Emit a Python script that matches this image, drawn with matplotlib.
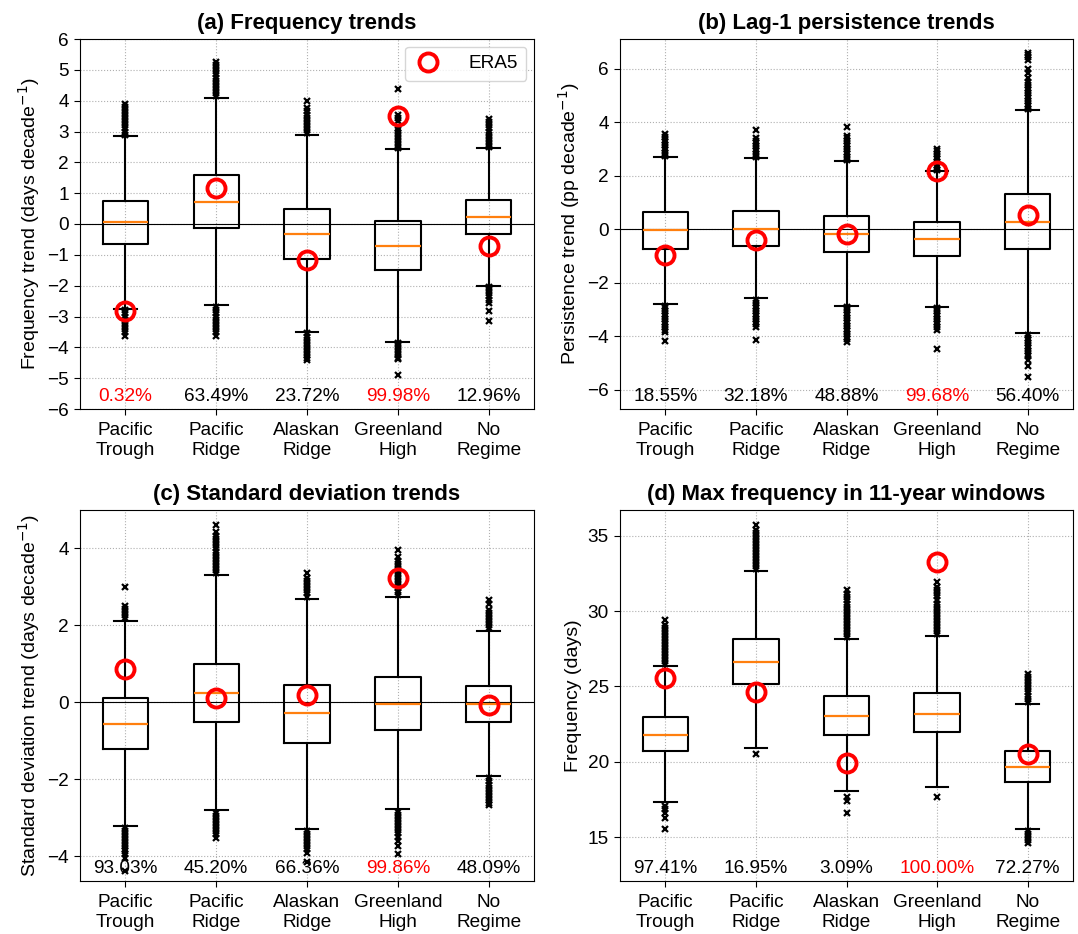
import matplotlib
matplotlib.use("Agg")
import matplotlib.pyplot as plt
import matplotlib.transforms as mtransforms

plt.rcParams['font.family'] = ['Liberation Sans', 'DejaVu Sans']
plt.rcParams['font.size'] = 13.7

regimes = ["Pacific\nTrough", "Pacific\nRidge", "Alaskan\nRidge", "Greenland\nHigh", "No\nRegime"]

# ---------------- Panel (a): Frequency trends ----------------
a_med = [0.05, 0.72, -0.33, -0.72, 0.24]
a_q1 = [-0.65, -0.12, -1.12, -1.48, -0.33]
a_q3 = [0.76, 1.58, 0.49, 0.09, 0.79]
a_whislo = [-2.75, -2.62, -3.51, -3.82, -2.00]
a_whishi = [2.86, 4.09, 2.89, 2.42, 2.45]
a_fliers = [
    [2.9, 3.0, 3.1, 3.2, 3.3, 3.4, 3.5, 3.6, 3.7, 3.8, 3.9,
     -2.8, -2.9, -3.0, -3.1, -3.2, -3.3, -3.4, -3.5, -3.63],
    [4.15, 4.25, 4.35, 4.45, 4.55, 4.65, 4.75, 4.85, 4.95, 5.05, 5.15, 5.26,
     -2.7, -2.8, -2.9, -3.0, -3.1, -3.2, -3.3, -3.4, -3.5, -3.62],
    [2.95, 3.05, 3.15, 3.25, 3.35, 3.45, 3.55, 3.65, 3.75, 4.0,
     -3.55, -3.65, -3.75, -3.85, -3.95, -4.05, -4.15, -4.25, -4.35, -4.42],
    [2.45, 2.55, 2.65, 2.75, 2.85, 2.95, 3.05, 3.12, 3.35, 3.45, 3.55, 4.37,
     -3.85, -3.95, -4.05, -4.15, -4.25, -4.33, -4.39, -4.89],
    [2.5, 2.6, 2.7, 2.8, 2.9, 3.0, 3.1, 3.2, 3.3, 3.42,
     -2.05, -2.15, -2.25, -2.35, -2.45, -2.56, -2.83, -3.13],
]
a_era5 = [-2.83, 1.17, -1.18, 3.49, -0.70]
a_pct = ["0.32%", "63.49%", "23.72%", "99.98%", "12.96%"]
a_sig = [True, False, False, True, False]

# ---------------- Panel (b): Lag-1 persistence trends ----------------
b_med = [-0.04, 0.02, -0.17, -0.37, 0.29]
b_q1 = [-0.74, -0.64, -0.85, -1.01, -0.75]
b_q3 = [0.64, 0.69, 0.51, 0.27, 1.33]
b_whislo = [-2.79, -2.58, -2.87, -2.89, -3.89]
b_whishi = [2.70, 2.67, 2.54, 2.17, 4.45]
b_fliers = [
    [2.75, 2.85, 2.95, 3.05, 3.15, 3.25, 3.35, 3.45, 3.58,
     -2.85, -2.95, -3.05, -3.15, -3.25, -3.35, -3.45, -3.55, -3.65, -3.75, -3.83, -4.17],
    [2.72, 2.82, 2.92, 3.02, 3.12, 3.22, 3.32, 3.42, 3.71,
     -2.65, -2.75, -2.85, -2.95, -3.05, -3.15, -3.25, -3.35, -3.45, -3.55, -3.64, -4.15],
    [2.6, 2.7, 2.8, 2.9, 3.0, 3.1, 3.2, 3.3, 3.4, 3.5, 3.81,
     -2.92, -3.02, -3.12, -3.22, -3.32, -3.42, -3.52, -3.62, -3.72, -3.82, -3.92, -4.02, -4.12, -4.2],
    [2.22, 2.32, 2.42, 2.52, 2.62, 2.72, 2.82, 2.92, 3.0,
     -2.95, -3.05, -3.15, -3.25, -3.35, -3.45, -3.55, -3.65, -3.76, -4.46],
    [4.5, 4.6, 4.7, 4.8, 4.9, 5.0, 5.1, 5.2, 5.3, 5.4, 5.5, 5.65, 5.85, 6.0,
     6.33, 6.43, 6.52, 6.6,
     -3.95, -4.05, -4.15, -4.25, -4.35, -4.45, -4.55, -4.65, -4.75, -4.88, -5.1, -5.51],
]
b_era5 = [-0.97, -0.41, -0.19, 2.18, 0.54]
b_pct = ["18.55%", "32.18%", "48.88%", "99.68%", "56.40%"]
b_sig = [False, False, False, True, False]

# ---------------- Panel (c): Standard deviation trends ----------------
c_med = [-0.56, 0.25, -0.29, -0.04, -0.04]
c_q1 = [-1.21, -0.52, -1.05, -0.72, -0.51]
c_q3 = [0.11, 1.00, 0.45, 0.66, 0.43]
c_whislo = [-3.21, -2.81, -3.29, -2.79, -1.92]
c_whishi = [2.12, 3.30, 2.69, 2.74, 1.86]
c_fliers = [
    [2.18, 2.26, 2.34, 2.42, 2.49, 3.0,
     -3.27, -3.35, -3.43, -3.51, -3.59, -3.67, -3.75, -3.82, -3.88, -3.96, -4.06, -4.38],
    [3.36, 3.44, 3.52, 3.6, 3.68, 3.76, 3.84, 3.92, 4.0, 4.08, 4.16, 4.24, 4.32, 4.42, 4.6,
     -2.87, -2.95, -3.03, -3.11, -3.19, -3.27, -3.35, -3.43, -3.52],
    [2.75, 2.83, 2.91, 2.99, 3.07, 3.15, 3.23, 3.35,
     -3.35, -3.43, -3.51, -3.59, -3.67, -3.75, -3.83, -3.93, -4.15],
    [2.8, 2.88, 2.96, 3.04, 3.12, 3.2, 3.28, 3.36, 3.44, 3.52, 3.6, 3.68, 3.78, 3.97,
     -2.85, -2.93, -3.01, -3.09, -3.17, -3.25, -3.33, -3.41, -3.5, -3.6, -3.75, -3.95],
    [1.92, 2.0, 2.08, 2.16, 2.24, 2.32, 2.4, 2.55, 2.67,
     -1.98, -2.06, -2.14, -2.22, -2.3, -2.38, -2.46, -2.54, -2.62, -2.68],
]
c_era5 = [0.87, 0.12, 0.18, 3.23, -0.07]
c_pct = ["93.03%", "45.20%", "66.36%", "99.86%", "48.09%"]
c_sig = [False, False, False, True, False]

# ---------------- Panel (d): Max frequency in 11-year windows ----------------
d_med = [21.81, 26.62, 23.07, 23.16, 19.63]
d_q1 = [20.74, 25.18, 21.81, 22.00, 18.64]
d_q3 = [22.98, 28.17, 24.36, 24.56, 20.70]
d_whislo = [17.37, 20.90, 18.10, 18.30, 15.58]
d_whishi = [26.35, 32.65, 28.17, 28.37, 23.82]
d_fliers = [
    [26.5, 26.7, 26.9, 27.1, 27.3, 27.5, 27.7, 27.9, 28.1, 28.3, 28.5, 28.7, 28.9, 29.1, 29.4,
     17.1, 16.9, 16.6, 16.26, 15.55],
    [32.8, 33.0, 33.2, 33.4, 33.6, 33.8, 34.0, 34.2, 34.4, 34.6, 34.8, 35.0, 35.2, 35.4, 35.7,
     20.54],
    [28.3, 28.5, 28.7, 28.9, 29.1, 29.3, 29.5, 29.7, 29.9, 30.1, 30.3, 30.5, 30.7, 30.9, 31.1, 31.4,
     17.7, 17.4, 16.64],
    [28.5, 28.7, 28.9, 29.1, 29.3, 29.5, 29.7, 29.9, 30.1, 30.3, 30.5, 30.7, 31.0, 31.2, 31.4, 31.6, 31.9,
     17.64],
    [24.0, 24.2, 24.4, 24.6, 24.8, 25.0, 25.2, 25.4, 25.6, 25.85,
     15.4, 15.2, 15.0, 14.8, 14.62],
]
d_era5 = [25.55, 24.62, 19.92, 33.27, 20.54]
d_pct = ["97.41%", "16.95%", "3.09%", "100.00%", "72.27%"]
d_sig = [False, False, False, True, False]

panels = [
    dict(title="(a) Frequency trends", ylabel="Frequency trend (days decade$^{-1}$)",
         med=a_med, q1=a_q1, q3=a_q3, lo=a_whislo, hi=a_whishi, fl=a_fliers, era=a_era5,
         pct=a_pct, sig=a_sig, ylim=(-6, 6), yticks=list(range(-6, 7, 1)), zero=True, legend=True),
    dict(title="(b) Lag-1 persistence trends", ylabel="Persistence trend (pp decade$^{-1}$)",
         med=b_med, q1=b_q1, q3=b_q3, lo=b_whislo, hi=b_whishi, fl=b_fliers, era=b_era5,
         pct=b_pct, sig=b_sig, ylim=(-6.72, 7.12), yticks=[-6, -4, -2, 0, 2, 4, 6], zero=True, legend=False),
    dict(title="(c) Standard deviation trends", ylabel="Standard deviation trend (days decade$^{-1}$)",
         med=c_med, q1=c_q1, q3=c_q3, lo=c_whislo, hi=c_whishi, fl=c_fliers, era=c_era5,
         pct=c_pct, sig=c_sig, ylim=(-4.65, 5.0), yticks=[-4, -2, 0, 2, 4], zero=True, legend=False),
    dict(title="(d) Max frequency in 11-year windows", ylabel="Frequency (days)",
         med=d_med, q1=d_q1, q3=d_q3, lo=d_whislo, hi=d_whishi, fl=d_fliers, era=d_era5,
         pct=d_pct, sig=d_sig, ylim=(12.1, 36.7), yticks=[15, 20, 25, 30, 35], zero=False, legend=False),
]

W, H = 1078, 934
fig = plt.figure(figsize=(W / 100, H / 100), dpi=100)
rects = [(80, 39, 534, 409), (620, 39, 1073, 409), (80, 510, 534, 881), (620, 510, 1073, 881)]

positions = [1, 2, 3, 4, 5]
for p, (x0, y0, x1, y1) in zip(panels, rects):
    ax = fig.add_axes([x0 / W, 1 - y1 / H, (x1 - x0) / W, (y1 - y0) / H])
    stats = []
    for i in range(5):
        stats.append(dict(med=p['med'][i], q1=p['q1'][i], q3=p['q3'][i],
                          whislo=p['lo'][i], whishi=p['hi'][i], fliers=p['fl'][i]))
    ax.bxp(stats, positions=positions, widths=0.5,
           boxprops=dict(color='black', linewidth=1.5),
           whiskerprops=dict(color='black', linewidth=1.5),
           capprops=dict(color='black', linewidth=1.5),
           medianprops=dict(color='#ff7f0e', linewidth=1.6),
           flierprops=dict(marker='x', markersize=4, markeredgewidth=1.6,
                           markeredgecolor='black', linestyle='none'))
    if p['zero']:
        ax.axhline(0, color='black', linewidth=0.8, zorder=1.5)
    ax.plot(positions, p['era'], linestyle='none', marker='o', markersize=13,
            markerfacecolor='none', markeredgecolor='red', markeredgewidth=2.8,
            label='ERA5', zorder=5)
    ax.set_xlim(0.5, 5.5)
    ax.set_ylim(*p['ylim'])
    ax.set_yticks(p['yticks'])
    ax.set_xticks(positions)
    ax.set_xticklabels(regimes)
    ax.grid(True, linestyle=':', color='#b0b0b0', linewidth=0.8)
    ax.set_axisbelow(True)
    ax.set_title(p['title'], fontsize=16, fontweight='bold', pad=7)
    ax.set_ylabel(p['ylabel'], fontsize=14)
    ax.tick_params(labelsize=13.7, length=4.5)
    ax.tick_params(axis='x', pad=5)
    trans = mtransforms.blended_transform_factory(ax.transData, ax.transAxes)
    for i in range(5):
        ax.text(positions[i], 0.012, p['pct'][i], transform=trans, ha='center', va='bottom',
                fontsize=13.7, color='red' if p['sig'][i] else 'black')
    if p['legend']:
        ax.legend(loc='upper right', fontsize=13.7, handlelength=1.6, handletextpad=1.3,
                  borderpad=0.45, borderaxespad=0.4)

fig.savefig("out.png", dpi=100)
